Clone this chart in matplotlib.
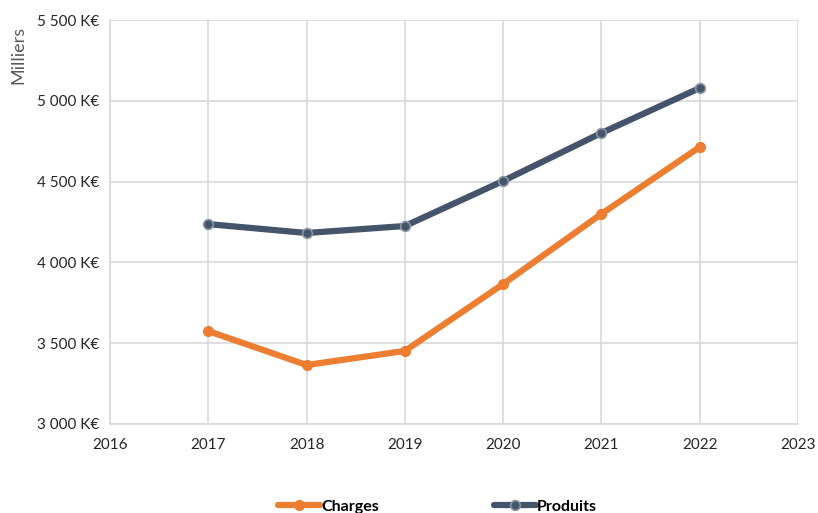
import matplotlib
matplotlib.use('Agg')
import matplotlib.pyplot as plt
from matplotlib.ticker import FuncFormatter

plt.rcParams['font.family'] = ['Lato', 'DejaVu Sans']

years = [2017, 2018, 2019, 2020, 2021, 2022]
charges = [3575, 3365, 3452, 3866, 4300, 4714]
produits = [4237, 4182, 4225, 4504, 4801, 5079]

orange = '#ED7D31'
bleu = '#44546A'
grille = '#D9D9D9'

fig = plt.figure(figsize=(8.18, 5.13), dpi=100)
ax = fig.add_axes([0.1345, 0.1735, 0.841, 0.7875])

ax.plot(years, charges, color=orange, lw=4.5, marker='o', ms=7,
        mfc=orange, mec=orange, label='Charges', solid_capstyle='round', zorder=3)
ax.plot(years, produits, color=bleu, lw=4.5, marker='o', ms=7,
        mfc=bleu, mec='#8C96A3', mew=1.2, label='Produits', solid_capstyle='round', zorder=3)

ax.set_xlim(2016, 2023)
ax.set_ylim(3000, 5500)
ax.set_xticks(range(2016, 2024))
ax.set_yticks(range(3000, 5501, 500))

def fmt(v, pos):
    return '{:,.0f} K€'.format(v).replace(',', ' ')

ax.yaxis.set_major_formatter(FuncFormatter(fmt))
ax.grid(True, color=grille, lw=1.2)
ax.set_axisbelow(True)
for s in ['top', 'right']:
    ax.spines[s].set_visible(False)
for s in ['left', 'bottom']:
    ax.spines[s].set_color(grille)
    ax.spines[s].set_linewidth(1.2)
ax.tick_params(length=0, labelsize=11, colors='#262626', pad=8)
ax.tick_params(axis='x', pad=10)

fig.text(0.022, 0.893, 'Milliers', rotation=90, ha='center', va='center',
         fontsize=13, color='#595959')

leg = fig.legend(loc='center', bbox_to_anchor=(0.535, 0.012), ncol=2,
                 frameon=False, handlelength=2.6, handletextpad=0.1,
                 columnspacing=7.2, prop={'size': 11.5, 'weight': 'bold'})

fig.savefig('out.png', dpi=100)
